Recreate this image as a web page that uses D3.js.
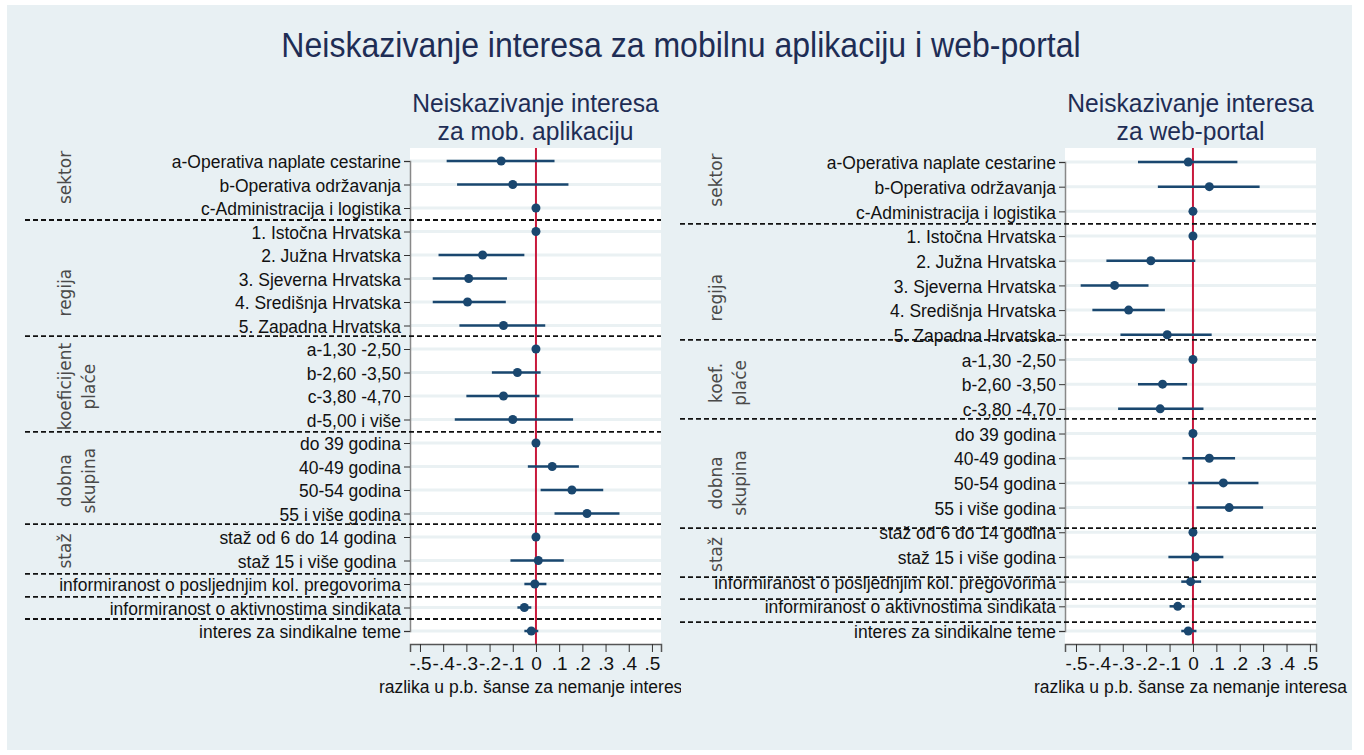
<!DOCTYPE html>
<html>
<head>
<meta charset="utf-8">
<script src="https://cdn.jsdelivr.net/npm/d3@7"></script>
<style>
  body { margin: 0; background: #fff; }
  text { font-family: "Liberation Sans", Arial, sans-serif; }
  .grp { font-family: "DejaVu Sans", Verdana, sans-serif; fill: #4a4a4a; }
</style>
</head>
<body>
<div id="chart"></div>
<script>
var width = 1364;
var height = 755;

// mobilna aplikacija - point estimates and 95% CI
var mobLabels = ["a-Operativa naplate cestarine", "b-Operativa održavanja", "c-Administracija i logistika",
  "1. Istočna Hrvatska", "2. Južna Hrvatska", "3. Sjeverna Hrvatska", "4. Središnja Hrvatska", "5. Zapadna Hrvatska",
  "a-1,30 -2,50", "b-2,60 -3,50", "c-3,80 -4,70", "d-5,00 i više",
  "do 39 godina", "40-49 godina", "50-54 godina", "55 i više godina",
  "staž od 6 do 14 godina ", "staž 15 i više godina ",
  "informiranost o posljednjim kol. pregovorima", "informiranost o aktivnostima sindikata", "interes za sindikalne teme"];
var mobEst = [-0.15, -0.10, 0, 0, -0.23, -0.29, -0.295, -0.14, 0, -0.08, -0.14, -0.10, 0, 0.07, 0.155, 0.22, 0, 0.01, -0.005, -0.05, -0.02];
var mobLo  = [-0.385, -0.34, 0, 0, -0.42, -0.445, -0.445, -0.33, 0, -0.19, -0.30, -0.35, 0, -0.035, 0.02, 0.08, 0, -0.11, -0.05, -0.08, -0.05];
var mobHi  = [0.08, 0.14, 0, 0, -0.05, -0.125, -0.13, 0.04, 0, 0.02, 0.015, 0.16, 0, 0.185, 0.29, 0.36, 0, 0.12, 0.045, -0.02, 0.01];
var mobGroups = [["sektor"], ["regija"], ["koeficijent", "plaće"], ["dobna", "skupina"], ["staž"]];
var mobGroupRows = [0.7, 5.6, 9.6, 13.6, 16.6];
var mobSeparators = [2.51, 7.45, 11.53, 15.45, 17.57, 18.55, 19.49];

// web-portal
var webLabels = ["a-Operativa naplate cestarine", "b-Operativa održavanja", "c-Administracija i logistika",
  "1. Istočna Hrvatska", "2. Južna Hrvatska", "3. Sjeverna Hrvatska", "4. Središnja Hrvatska", "5. Zapadna Hrvatska",
  "a-1,30 -2,50", "b-2,60 -3,50", "c-3,80 -4,70",
  "do 39 godina", "40-49 godina", "50-54 godina", "55 i više godina",
  "staž od 6 do 14 godina", "staž 15 i više godina",
  "informiranost o posljednjim kol. pregovorima", "informiranost o aktivnostima sindikata", "interes za sindikalne teme"];
var webEst = [-0.02, 0.07, 0, 0, -0.18, -0.335, -0.275, -0.11, 0, -0.13, -0.14, 0, 0.07, 0.13, 0.155, 0, 0.01, -0.01, -0.065, -0.02];
var webLo  = [-0.235, -0.15, 0, 0, -0.37, -0.48, -0.43, -0.31, 0, -0.235, -0.32, 0, -0.045, -0.02, 0.015, 0, -0.105, -0.05, -0.10, -0.05];
var webHi  = [0.19, 0.285, 0, 0, 0.01, -0.19, -0.12, 0.08, 0, -0.025, 0.045, 0, 0.18, 0.28, 0.30, 0, 0.13, 0.035, -0.035, 0.015];
var webGroups = [["sektor"], ["regija"], ["koef.", "plaće"], ["dobna", "skupina"], ["staž"]];
var webGroupRows = [0.73, 5.5, 8.95, 13.0, 15.9];
var webSeparators = [2.51, 7.21, 10.41, 14.83, 16.82, 17.71, 18.64];

var xTicks = [-0.5, -0.4, -0.3, -0.2, -0.1, 0, 0.1, 0.2, 0.3, 0.4, 0.5];

var navy = "#1a476f";
var titleColor = "#1e2d55";

var svg = d3.select("#chart").append("svg")
  .attr("width", width)
  .attr("height", height);

svg.append("rect")
  .attr("x", 7).attr("y", 5)
  .attr("width", 1345).attr("height", 745)
  .attr("fill", "#e8f0f3");

svg.append("text")
  .attr("transform", "translate(681,57) scale(0.89,1)")
  .attr("text-anchor", "middle")
  .attr("font-size", "36px")
  .attr("fill", titleColor)
  .text("Neiskazivanje interesa za mobilnu aplikaciju i web-portal");

function fmtTick(v) {
  if (Math.abs(v) < 1e-9) return "0";
  var s = d3.format(".1f")(Math.abs(v)).replace(/^0/, "");
  return (v < 0 ? "-" : "") + s;
}

function drawPanel(cfg) {
  var g = svg.append("g");
  if (cfg.clip) {
    svg.append("clipPath").attr("id", cfg.id + "clip")
      .append("rect").attr("x", cfg.clip[0]).attr("y", 0)
      .attr("width", cfg.clip[1] - cfg.clip[0]).attr("height", height);
    g.attr("clip-path", "url(#" + cfg.id + "clip)");
  }

  var x = d3.scaleLinear().domain(cfg.xDomain).range([cfg.x0, cfg.x1]);
  var y = d3.scaleLinear().domain([0, cfg.labels.length - 1]).range([cfg.row0, cfg.rowN]);
  var rows = d3.range(cfg.labels.length);

  // panel title
  cfg.title.forEach(function (t, i) {
    g.append("text")
      .attr("transform", "translate(" + ((cfg.x0 + cfg.x1) / 2) + "," + (112 + i * 28) + ") scale(0.93,1)")
      .attr("text-anchor", "middle")
      .attr("font-size", "26.5px")
      .attr("fill", titleColor)
      .text(t);
  });

  // plot region
  g.append("rect")
    .attr("x", cfg.x0).attr("y", cfg.y0)
    .attr("width", cfg.x1 - cfg.x0).attr("height", cfg.y1 - cfg.y0)
    .attr("fill", "#fff");

  g.selectAll(".grid").data(rows).enter().append("line")
    .attr("x1", cfg.x0).attr("x2", cfg.x1)
    .attr("y1", function (d) { return y(d); })
    .attr("y2", function (d) { return y(d); })
    .attr("stroke", "#eaf1f3").attr("stroke-width", 3);

  g.append("line")
    .attr("x1", x(0)).attr("x2", x(0))
    .attr("y1", cfg.y0).attr("y2", cfg.y1)
    .attr("stroke", "#c8193c").attr("stroke-width", 2);

  // y axis with category labels
  var yAxis = d3.axisLeft(y).tickValues(rows).tickSize(6).tickPadding(3)
    .tickFormat(function (d) { return cfg.labels[d]; });
  var ya = g.append("g").attr("transform", "translate(" + cfg.x0 + ",0)").call(yAxis);
  ya.select(".domain").attr("stroke", "#888").attr("stroke-width", 1.5);
  ya.selectAll(".tick line").attr("stroke", "#333");
  ya.selectAll(".tick text")
    .attr("font-size", "18.5px").attr("fill", "#111")
    .attr("font-family", "Liberation Sans, Arial, sans-serif")
    .style("white-space", "pre")
    .attr("dy", "0.36em")
    .each(function () {
      // slightly condensed like the original
      var t = d3.select(this);
      var xx = +t.attr("x");
      t.attr("transform", "translate(" + xx + ",0) scale(0.945,1) translate(" + (-xx) + ",0)");
    });

  // x axis
  var xAxis = d3.axisBottom(x).tickValues(xTicks).tickSize(8).tickPadding(5).tickFormat(fmtTick);
  var xa = g.append("g").attr("transform", "translate(0," + cfg.y1 + ")").call(xAxis);
  xa.select(".domain").attr("stroke", "#555").attr("stroke-width", 1.5);
  xa.selectAll(".tick line").attr("stroke", "#333");
  xa.selectAll(".tick text").attr("font-size", "19px").attr("fill", "#111")
    .attr("font-family", "Liberation Sans, Arial, sans-serif");

  g.append("text")
    .attr("x", (cfg.x0 + cfg.x1) / 2).attr("y", 693)
    .attr("text-anchor", "middle")
    .attr("font-size", "17.5px").attr("fill", "#111")
    .text("razlika u p.b. šanse za nemanje interesa");

  // confidence intervals and estimates
  g.selectAll(".ci").data(rows).enter().append("line")
    .attr("x1", function (d) { return x(cfg.lo[d]); })
    .attr("x2", function (d) { return x(cfg.hi[d]); })
    .attr("y1", function (d) { return y(d); })
    .attr("y2", function (d) { return y(d); })
    .attr("stroke", navy).attr("stroke-width", 2.5);

  g.selectAll(".pt").data(rows).enter().append("circle")
    .attr("cx", function (d) { return x(cfg.est[d]); })
    .attr("cy", function (d) { return y(d); })
    .attr("r", 4.5)
    .attr("fill", navy);

  // group labels
  cfg.groups.forEach(function (lines, i) {
    lines.forEach(function (t, j) {
      g.append("text")
        .attr("class", "grp")
        .attr("transform", "translate(" + (cfg.groupX + j * 24) + "," + y(cfg.groupRows[i]) + ") rotate(-90)")
        .attr("text-anchor", "middle")
        .attr("font-size", "17px")
        .text(t);
    });
  });

  // dashed separators
  g.selectAll(".sep").data(cfg.separators).enter().append("line")
    .attr("x1", cfg.sepX0).attr("x2", cfg.x1)
    .attr("y1", function (d) { return y(d); })
    .attr("y2", function (d) { return y(d); })
    .attr("stroke", "#111").attr("stroke-width", 1.8)
    .attr("stroke-dasharray", "5,3");
}

drawPanel({
  id: "mob",
  title: ["Neiskazivanje interesa", "za mob. aplikaciju"],
  labels: mobLabels, est: mobEst, lo: mobLo, hi: mobHi,
  groups: mobGroups, groupRows: mobGroupRows, separators: mobSeparators,
  xDomain: [-0.543, 0.539], x0: 410, x1: 661, y0: 148, y1: 644,
  row0: 161, rowN: 631, groupX: 71, sepX0: 25, clip: [0, 681]
});

drawPanel({
  id: "web",
  title: ["Neiskazivanje interesa", "za web-portal"],
  labels: webLabels, est: webEst, lo: webLo, hi: webHi,
  groups: webGroups, groupRows: webGroupRows, separators: webSeparators,
  xDomain: [-0.547, 0.526], x0: 1065, x1: 1316, y0: 148, y1: 644,
  row0: 162, rowN: 631, groupX: 722, sepX0: 680, clip: null
});
</script>
</body>
</html>
